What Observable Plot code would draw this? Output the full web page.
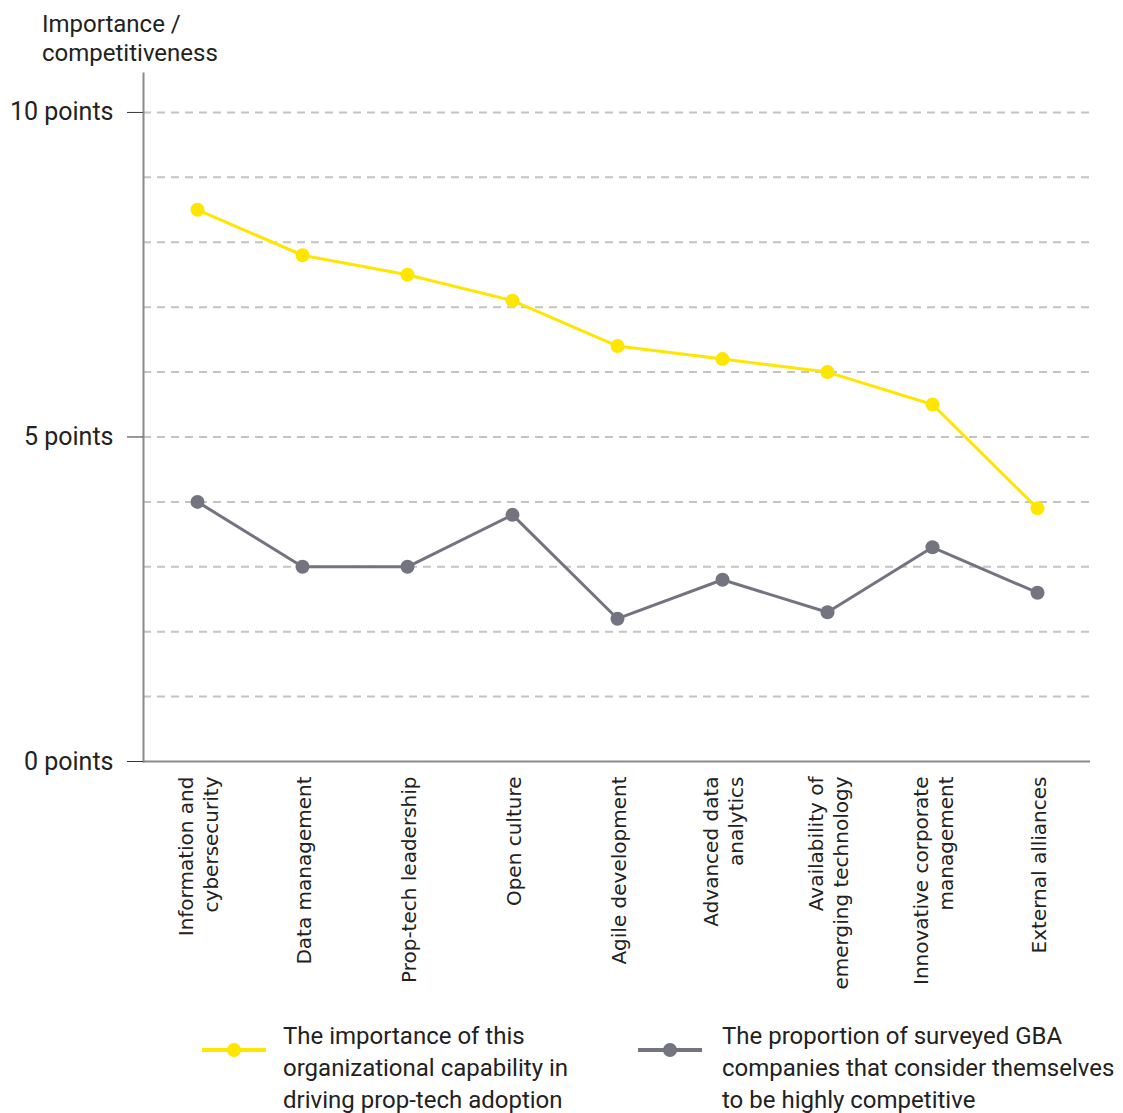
<!DOCTYPE html>
<html>
<head>
<meta charset="utf-8">
<script src="https://cdn.jsdelivr.net/npm/d3@7"></script>
<script src="https://cdn.jsdelivr.net/npm/@observablehq/plot@0.6"></script>
<style>
  body { margin: 0; background: #fff; font-family: Roboto, "Liberation Sans", sans-serif; }
  #wrap { position: relative; width: 1123px; height: 1113px; }
  #title { position: absolute; left: 42px; top: 10px; font-size: 24px; line-height: 29px; color: #222; }
  #chart { position: absolute; left: 0; top: 70px; }
  .leg { position: absolute; font-size: 24px; line-height: 32px; color: #222; }
  .sw { position: absolute; }
</style>
</head>
<body>
<div id="wrap">
  <div id="title">Importance /<br>competitiveness</div>
  <div id="chart"></div>
  <svg class="sw" style="left:200px; top:1040px" width="68" height="20"><line x1="2" x2="66" y1="10" y2="10" stroke="#FFE600" stroke-width="4"/><circle cx="34" cy="10" r="7" fill="#FFE600"/></svg>
  <div class="leg" style="left:283px; top:1020px">The importance of this<br>organizational capability in<br>driving prop-tech adoption</div>
  <svg class="sw" style="left:636px; top:1040px" width="68" height="20"><line x1="2" x2="66" y1="10" y2="10" stroke="#747480" stroke-width="4"/><circle cx="34" cy="10" r="7" fill="#747480"/></svg>
  <div class="leg" style="left:722px; top:1020px">The proportion of surveyed GBA<br>companies that consider themselves<br>to be highly competitive</div>
</div>
<script>
const categories = [
  "Information and cybersecurity",
  "Data management",
  "Prop-tech leadership",
  "Open culture",
  "Agile development",
  "Advanced data analytics",
  "Availability of emerging technology",
  "Innovative corporate management",
  "External alliances"
];
const tickLabels = [
  "Information and\ncybersecurity",
  "Data management",
  "Prop-tech leadership",
  "Open culture",
  "Agile development",
  "Advanced data\nanalytics",
  "Availability of\nemerging technology",
  "Innovative corporate\nmanagement",
  "External alliances"
];
const importance = [8.5, 7.8, 7.5, 7.1, 6.4, 6.2, 6.0, 5.5, 3.9];
const competitiveness = [4.0, 3.0, 3.0, 3.8, 2.2, 2.8, 2.3, 3.3, 2.6];
const yTicks = [0, 5, 10];
const gridValues = [1, 2, 3, 4, 5, 6, 7, 8, 9, 10];

const YELLOW = "#FFE600";
const GRAY = "#747480";

const impData = categories.map((c, i) => ({cat: c, v: importance[i]}));
const compData = categories.map((c, i) => ({cat: c, v: competitiveness[i]}));
const labelData = categories.map((c, i) => ({cat: c, label: tickLabels[i]}));

const chart = Plot.plot({
  width: 1123,
  height: 930,
  marginLeft: 143,
  marginRight: 33,
  marginTop: 3,
  marginBottom: 239,
  x: {type: "point", domain: categories, padding: 0.5, label: null, axis: null},
  y: {domain: [0, 10.6], label: null},
  style: {background: "transparent", fontFamily: "Roboto, sans-serif"},
  marks: [
    Plot.ruleY(gridValues, {stroke: "#c4c4c4", strokeWidth: 2, strokeDasharray: "8,6"}),
    Plot.ruleY([0], {stroke: "#8a8a8a", strokeWidth: 2}),
    Plot.frame({anchor: "left", stroke: "#8a8a8a", strokeWidth: 2}),
    Plot.axisY({
      ticks: yTicks,
      tickFormat: d => `${d} points`,
      tickSize: 16,
      tickPadding: 14,
      fontSize: 25,
      stroke: "#333",
      fill: "#222",
      label: null
    }),
    Plot.text(labelData, {
      x: "cat",
      text: "label",
      frameAnchor: "bottom",
      rotate: -90,
      textAnchor: "end",
      lineAnchor: "middle",
      lineHeight: 1.25,
      dy: 15,
      fontSize: 20,
      fontFamily: "DejaVu Sans",
      fill: "#222"
    }),
    Plot.line(impData, {x: "cat", y: "v", stroke: YELLOW, strokeWidth: 3}),
    Plot.dot(impData, {x: "cat", y: "v", fill: YELLOW, r: 7}),
    Plot.line(compData, {x: "cat", y: "v", stroke: GRAY, strokeWidth: 3}),
    Plot.dot(compData, {x: "cat", y: "v", fill: GRAY, r: 7})
  ]
});
document.getElementById("chart").appendChild(chart);
</script>
</body>
</html>
